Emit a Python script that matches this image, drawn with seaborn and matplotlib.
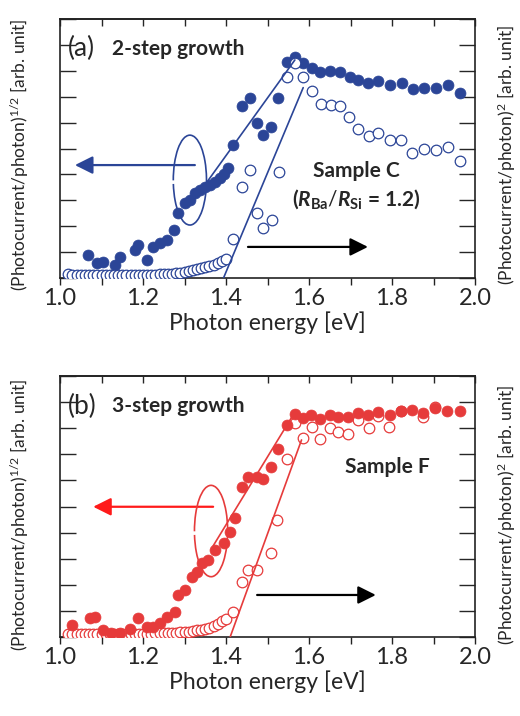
import matplotlib
matplotlib.use("Agg")
import matplotlib.pyplot as plt
from matplotlib.patches import Arc
import seaborn as sns
import pandas as pd

# ---- (a) sample C, 2-step growth ----
c_fill_x = [1.068, 1.088, 1.104, 1.133, 1.145, 1.181, 1.189, 1.209, 1.225, 1.241,
            1.257, 1.275, 1.285, 1.301, 1.313, 1.325, 1.337, 1.349, 1.361, 1.373,
            1.386, 1.394, 1.406, 1.418, 1.438, 1.458, 1.474, 1.490, 1.508, 1.526,
            1.546, 1.566, 1.586, 1.607, 1.626, 1.651, 1.675, 1.699, 1.719, 1.743,
            1.767, 1.795, 1.823, 1.851, 1.877, 1.905, 1.936, 1.965]
c_fill_y = [0.89, 0.57, 0.63, 0.50, 0.82, 1.08, 1.27, 0.70, 1.21, 1.34,
            1.47, 1.85, 2.50, 2.88, 3.01, 3.27, 3.40, 3.53, 3.59, 3.72,
            3.85, 4.02, 4.23, 5.14, 6.64, 6.94, 6.00, 5.52, 5.84, 6.94,
            8.35, 8.52, 8.29, 8.09, 7.97, 8.00, 7.97, 7.77, 7.65, 7.52,
            7.62, 7.45, 7.52, 7.28, 7.32, 7.32, 7.45, 7.13]
c_open_x = [1.02, 1.03, 1.04, 1.05, 1.06, 1.07, 1.08, 1.09, 1.10, 1.11,
            1.12, 1.13, 1.14, 1.15, 1.16, 1.17, 1.18, 1.19, 1.20, 1.21,
            1.22, 1.23, 1.24, 1.25, 1.26, 1.27, 1.28, 1.29, 1.30, 1.31,
            1.32, 1.33, 1.34, 1.35, 1.36, 1.37, 1.38, 1.39, 1.40,
            1.418, 1.438, 1.458, 1.474, 1.490, 1.510, 1.528, 1.546, 1.566, 1.586,
            1.607, 1.629, 1.653, 1.675, 1.697, 1.719, 1.745, 1.767, 1.795, 1.821,
            1.849, 1.877, 1.905, 1.936, 1.965]
c_open_y = [0.15, 0.12, 0.10, 0.10, 0.10, 0.10, 0.10, 0.10, 0.10, 0.10,
            0.10, 0.10, 0.10, 0.10, 0.10, 0.11, 0.11, 0.12, 0.12, 0.12,
            0.13, 0.13, 0.14, 0.15, 0.16, 0.17, 0.19, 0.21, 0.24, 0.27,
            0.31, 0.35, 0.39, 0.43, 0.47, 0.52, 0.58, 0.66, 0.75,
            1.49, 3.53, 4.17, 2.50, 1.92, 2.24, 4.10, 7.77, 8.29, 7.77,
            7.22, 6.72, 6.68, 6.64, 6.20, 5.75, 5.48, 5.59, 5.33, 5.33,
            4.84, 4.97, 4.94, 5.07, 4.53]
c_fit_fill_x = [1.349, 1.566]
c_fit_fill_y = [3.59, 8.42]
c_fit_open_x = [1.394, 1.586]
c_fit_open_y = [0.0, 7.35]

# ---- (b) sample F, 3-step growth ----
f_fill_x = [1.028, 1.072, 1.084, 1.104, 1.124, 1.145, 1.169, 1.189, 1.209, 1.225,
            1.241, 1.257, 1.277, 1.285, 1.301, 1.317, 1.329, 1.341, 1.357, 1.373,
            1.394, 1.410, 1.422, 1.438, 1.454, 1.474, 1.490, 1.508, 1.526, 1.548,
            1.566, 1.586, 1.606, 1.626, 1.651, 1.671, 1.695, 1.719, 1.743, 1.767,
            1.795, 1.821, 1.847, 1.875, 1.904, 1.933, 1.964]
f_fill_y = [0.46, 0.72, 0.77, 0.27, 0.17, 0.14, 0.29, 0.74, 0.40, 0.40,
            0.52, 0.78, 0.97, 1.61, 1.80, 2.31, 2.50, 2.85, 2.95, 3.33,
            3.59, 4.03, 4.55, 5.76, 6.14, 6.12, 6.04, 6.50, 7.19, 8.12,
            8.54, 8.38, 8.50, 8.34, 8.50, 8.44, 8.41, 8.60, 8.50, 8.63,
            8.50, 8.67, 8.70, 8.60, 8.76, 8.67, 8.67]
f_open_x = [1.02, 1.03, 1.04, 1.05, 1.06, 1.07, 1.08, 1.09, 1.10, 1.11,
            1.12, 1.13, 1.14, 1.15, 1.16, 1.17, 1.18, 1.19, 1.20, 1.21,
            1.22, 1.23, 1.24, 1.25, 1.26, 1.27, 1.28, 1.29, 1.30, 1.31,
            1.32, 1.33, 1.34, 1.35, 1.36, 1.37, 1.38, 1.39, 1.40,
            1.418, 1.438, 1.454, 1.474, 1.508, 1.524, 1.546, 1.566, 1.586, 1.607,
            1.626, 1.651, 1.671, 1.695, 1.719, 1.745, 1.767, 1.793, 1.821, 1.875,
            1.904]
f_open_y = [0.12, 0.10, 0.10, 0.10, 0.10, 0.10, 0.10, 0.10, 0.10, 0.10,
            0.10, 0.10, 0.10, 0.11, 0.11, 0.11, 0.12, 0.12, 0.12, 0.13,
            0.13, 0.14, 0.14, 0.15, 0.15, 0.16, 0.17, 0.18, 0.19, 0.21,
            0.23, 0.25, 0.28, 0.31, 0.36, 0.42, 0.50, 0.60, 0.68,
            0.97, 2.12, 2.57, 2.57, 3.21, 4.48, 6.81, 8.19, 7.61, 8.03,
            7.57, 7.99, 7.87, 7.78, 8.31, 8.02, 8.46, 8.03, 8.67, 8.44,
            8.82]
f_fit_fill_x = [1.369, 1.566]
f_fit_fill_y = [3.49, 8.62]
f_fit_open_x = [1.410, 1.582]
f_fit_open_y = [0.0, 7.55]

x_major = [1.0, 1.2, 1.4, 1.6, 1.8, 2.0]
x_minor = [1.1, 1.3, 1.5, 1.7, 1.9]
x_all = [1.0, 1.1, 1.2, 1.3, 1.4, 1.5, 1.6, 1.7, 1.8, 1.9, 2.0]

BLUE = "#2b4597"
RED = "#e63b3b"

sns.set_style("ticks")
plt.rcParams["font.family"] = ["Lato", "DejaVu Sans"]
plt.rcParams["mathtext.fontset"] = "custom"
plt.rcParams["mathtext.rm"] = "Lato"
plt.rcParams["mathtext.bf"] = "Lato:bold"
plt.rcParams["mathtext.it"] = "Lato:italic:bold"

fig = plt.figure(figsize=(5.2, 7.16), dpi=100)
W, H = 520, 716
ax_a = fig.add_axes([60 / W, 1 - 278 / H, 415 / W, 259 / H])
ax_b = fig.add_axes([60 / W, 1 - 637 / H, 415 / W, 261 / H])


def panel(ax, fx, fy, ox, oy, fit_fx, fit_fy, fit_ox, fit_oy, color, open_on_top):
    df_f = pd.DataFrame({"E": fx, "I": fy})
    df_o = pd.DataFrame({"E": ox, "I": oy})
    zf, zo = (3, 4) if open_on_top else (4, 3)
    sns.scatterplot(data=df_o, x="E", y="I", ax=ax, s=58, facecolor="white",
                    edgecolor=color, linewidth=0.9, zorder=zo)
    sns.scatterplot(data=df_f, x="E", y="I", ax=ax, s=62, color=color,
                    edgecolor=color, linewidth=0.5, zorder=zf)
    ax.plot(fit_fx, fit_fy, color=color, lw=1.2, zorder=5)
    ax.plot(fit_ox, fit_oy, color=color, lw=1.2, zorder=5)

    ax.set_xlim(1.0, 2.0)
    ax.set_ylim(0, 10)
    ax.set_xticks(x_major)
    ax.set_xticklabels([f"{v:.1f}" for v in x_major])
    ax.set_xticks(x_minor, minor=True)
    ax.set_yticks(range(0, 11))
    ax.tick_params(axis="x", which="both", direction="out", length=5, width=1,
                   labelsize=17, pad=2, color="#222222")
    ax.tick_params(axis="y", direction="in", length=11.5, width=1,
                   left=True, right=True, labelleft=False)
    top = ax.secondary_xaxis("top")
    top.set_xticks(x_all)
    top.tick_params(direction="in", length=5, width=1, labeltop=False)
    for sp in ax.spines.values():
        sp.set_visible(True)
        sp.set_linewidth(1.2)
        sp.set_color("#222222")
    top.spines["top"].set_linewidth(1.2)
    ax.set_xlabel("Photon energy [eV]", fontsize=16.5, labelpad=2)
    ax.set_ylabel("")


panel(ax_a, c_fill_x, c_fill_y, c_open_x, c_open_y,
      c_fit_fill_x, c_fit_fill_y, c_fit_open_x, c_fit_open_y, BLUE, True)
panel(ax_b, f_fill_x, f_fill_y, f_open_x, f_open_y,
      f_fit_fill_x, f_fit_fill_y, f_fit_open_x, f_fit_open_y, RED, False)

arrow = "-|>,head_length=0.6,head_width=0.3"

# panel (a) annotations
ax_a.annotate("", xy=(1.036, 4.36), xytext=(1.325, 4.36),
              arrowprops=dict(arrowstyle=arrow, color=BLUE, lw=1.6, mutation_scale=18,
                              shrinkA=0, shrinkB=0), zorder=6)
ax_a.add_patch(Arc((1.313, 3.78), 0.08, 3.47, theta1=255, theta2=555,
                   color=BLUE, lw=1.2, zorder=6))
ax_a.annotate("", xy=(1.742, 1.20), xytext=(1.453, 1.20),
              arrowprops=dict(arrowstyle=arrow, color="black", lw=1.6, mutation_scale=18,
                              shrinkA=0, shrinkB=0), zorder=6)
ax_a.text(0.02, 0.885, "(a)", transform=ax_a.transAxes, fontsize=19, va="center", ha="left")
ax_a.text(0.125, 0.885, "2-step growth", transform=ax_a.transAxes, fontsize=15,
          fontweight="bold", va="center", ha="left")
ax_a.text(1.713, 4.12, "Sample C", fontsize=15, fontweight="bold", ha="center", va="center")
ax_a.text(1.713, 3.05, r"($R_{\mathbf{Ba}}/R_{\mathbf{Si}}$ = 1.2)", fontsize=15,
          fontweight="bold", ha="center", va="center")

# panel (b) annotations
ax_b.annotate("", xy=(1.080, 4.99), xytext=(1.369, 4.99),
              arrowprops=dict(arrowstyle=arrow, color="#ff1a1a", lw=1.6, mutation_scale=18,
                              shrinkA=0, shrinkB=0), zorder=6)
ax_b.add_patch(Arc((1.364, 4.06), 0.08, 3.5, theta1=255, theta2=555,
                   color=RED, lw=1.2, zorder=6))
ax_b.annotate("", xy=(1.761, 1.61), xytext=(1.475, 1.61),
              arrowprops=dict(arrowstyle=arrow, color="black", lw=1.6, mutation_scale=18,
                              shrinkA=0, shrinkB=0), zorder=6)
ax_b.text(0.02, 0.885, "(b)", transform=ax_b.transAxes, fontsize=19, va="center", ha="left")
ax_b.text(0.125, 0.885, "3-step growth", transform=ax_b.transAxes, fontsize=15,
          fontweight="bold", va="center", ha="left")
ax_b.text(1.788, 6.51, "Sample F", fontsize=15, fontweight="bold", ha="center", va="center")

# y axis labels
left_lab = r"(Photocurrent/photon)$^{1/2}$ [arb. unit]"
right_lab = r"(Photocurrent/photon)$^{2}$ [arb. unit]"
for yc in (155, 515):
    fig.text(20 / W, 1 - yc / H, left_lab, rotation=90, fontsize=12.5,
             ha="center", va="center")
    fig.text(507 / W, 1 - yc / H, right_lab, rotation=90, fontsize=12.5,
             ha="center", va="center")

fig.savefig("out.png", dpi=100)
